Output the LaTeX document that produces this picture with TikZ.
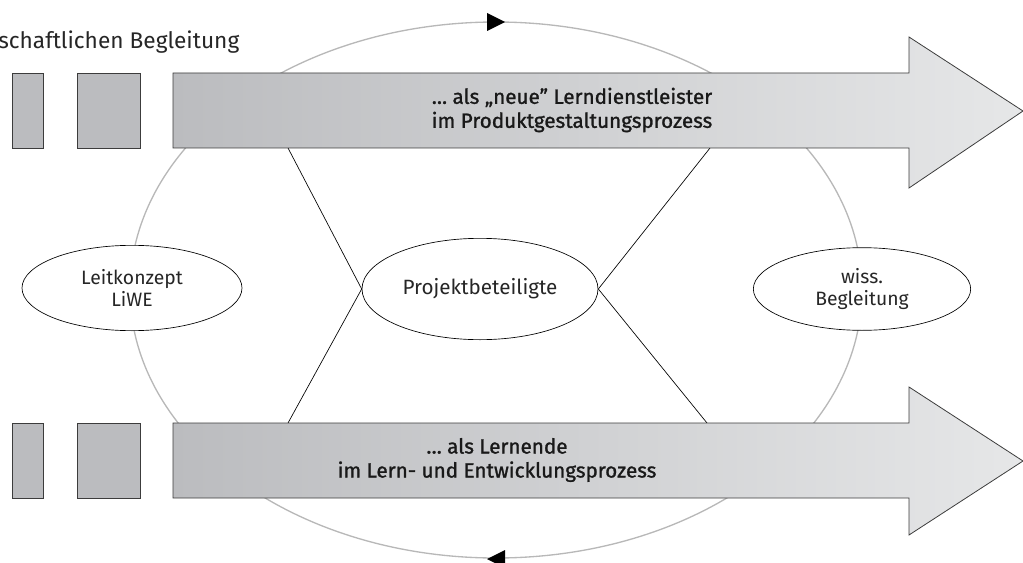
\documentclass[tikz,border=0pt]{standalone}
\usepackage{fontspec}
\setmainfont{Fira Sans}
\newfontfamily\bandfont{Fira Sans}[BoldFont={Fira Sans},BoldFeatures={FakeBold=1.2}]
\usetikzlibrary{shapes.geometric}
\definecolor{bandlight}{HTML}{E6E7E8}
\definecolor{banddark}{HTML}{BBBCBF}
\definecolor{rim}{HTML}{3C3C3C}
\tikzset{
  ell/.style={ellipse,draw=black,fill=white,line width=0.5pt,align=center,inner sep=0pt,text=black!85},
  band/.style={draw=rim,line width=0.6pt,left color=banddark,right color=bandlight},
  stub/.style={draw=rim,line width=0.6pt,fill=banddark},
  bandtext/.style={align=center,font=\bandfont\bfseries\fontsize{15.5}{18}\selectfont,text=black!90}
}
\begin{document}
\begin{tikzpicture}[x=0.75pt,y=-0.75pt]
      \useasboundingbox (0,0) rectangle (1023,563);
      \draw[black!28,line width=1pt] (496,290) ellipse (366 and 268);
      \fill (487,13)--(505,22)--(487,31)--cycle;
      \fill (505,550)--(487,559)--(505,568)--cycle;
      \node[anchor=west,inner sep=0pt,font=\fontsize{17}{19}\selectfont,text=black!85] (wbtitle) at (-2,42) {schaftlichen Begleitung};
      \node[ell,minimum width=165pt,minimum height=64pt,font=\fontsize{14.5}{16}\selectfont] (leit) at (132,288) {Leitkonzept\\LiWE};
      \node[ell,minimum width=177pt,minimum height=76pt,font=\fontsize{15.5}{17}\selectfont] (proj) at (480,289) {Projektbeteiligte};
      \node[ell,minimum width=163pt,minimum height=62pt,font=\fontsize{14.5}{16}\selectfont] (wiss) at (862,289) {wiss.\\Begleitung};
      \coordinate (t1) at (288,148);
      \coordinate (t2) at (710,148);
      \coordinate (b1) at (288,423);
      \coordinate (b2) at (707,423);
      \draw[line width=0.5pt] (t1)--(proj.west)--(b1);
      \draw[line width=0.5pt] (t2)--(proj.east)--(b2);
      \path[stub] (12,73) rectangle (43,148);
      \path[stub] (77,73) rectangle (140,148);
      \path[stub] (12,423) rectangle (43,498);
      \path[stub] (77,423) rectangle (140,498);
      \path[band] (173,73)--(909,73)--(909,37)--(1023,111)--(909,188)--(909,148)--(173,148)--cycle;
      \path[band] (173,423)--(909,423)--(909,387)--(1023,461)--(909,535)--(909,498)--(173,498)--cycle;
      \node[bandtext] (neu) at (572,110) {\dots\ als „neue” Lerndienstleister\\im Produktgestaltungsprozess};
      \node[bandtext] (lern) at (497,460) {\dots\ als Lernende\\im Lern- und Entwicklungsprozess};
    \end{tikzpicture}
\end{document}
